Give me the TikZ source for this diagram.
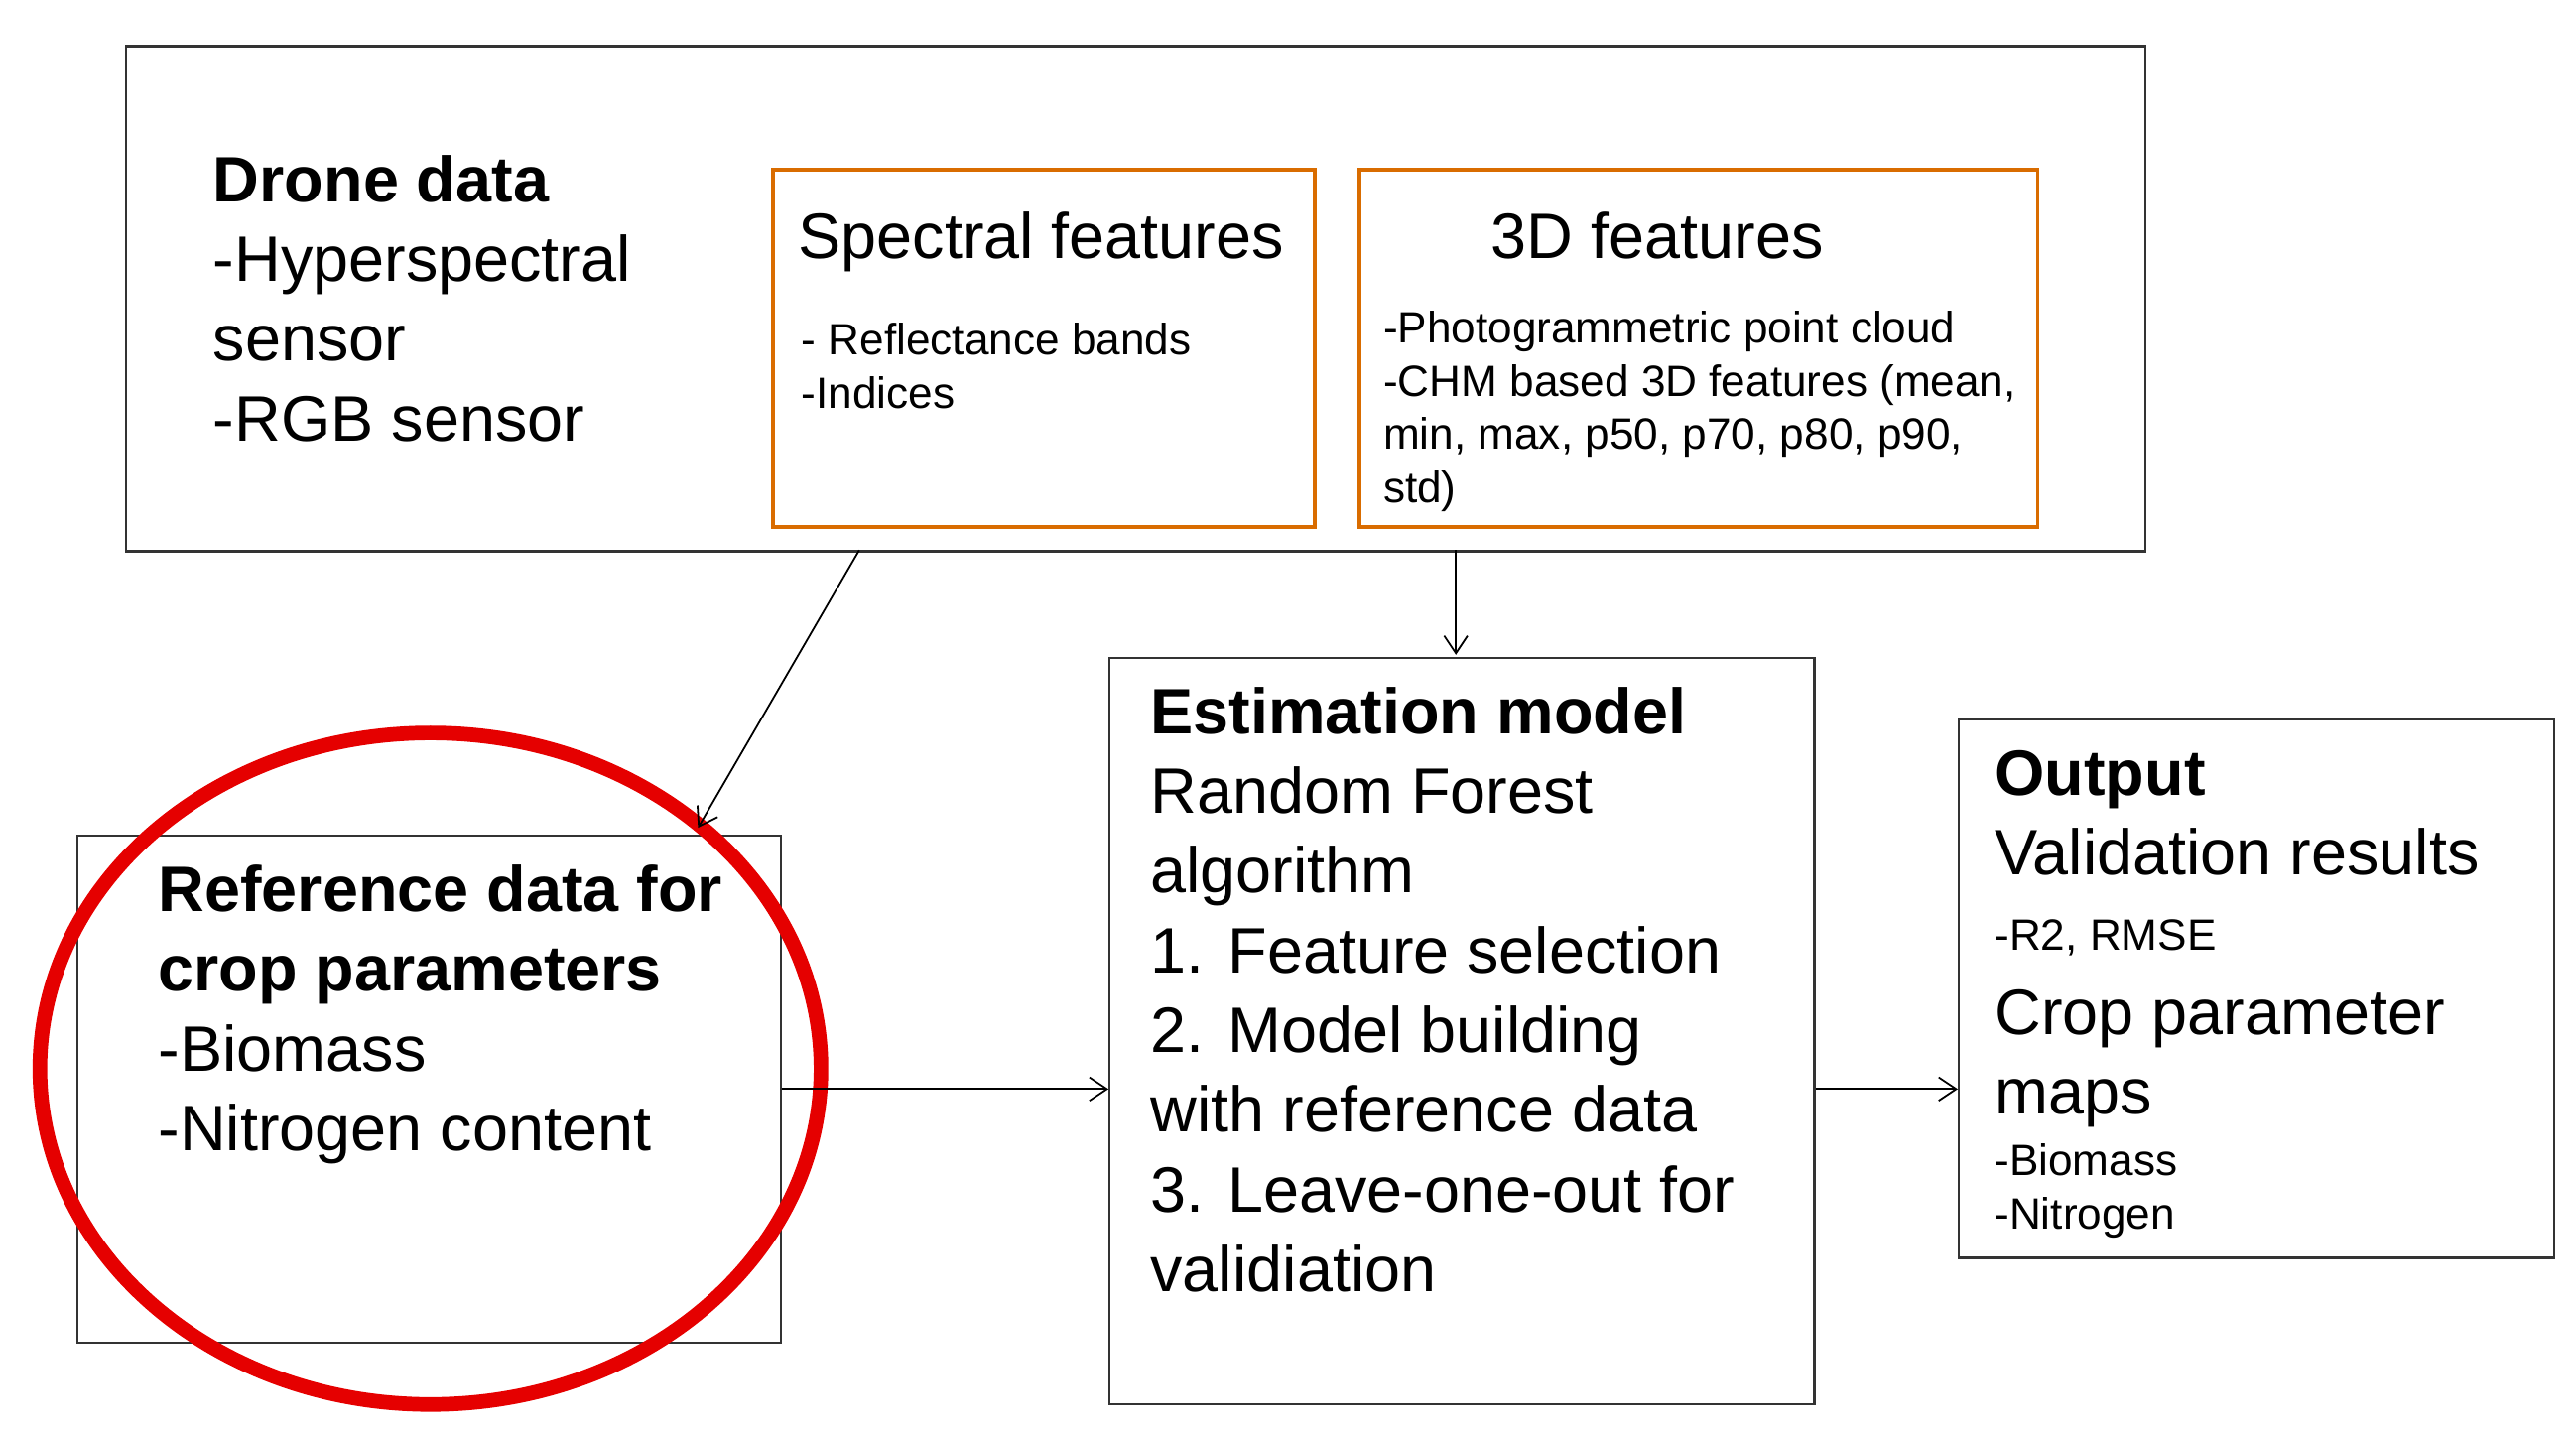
\documentclass[tikz,border=0pt]{standalone}
\usepackage{fontspec}
\setmainfont{Liberation Sans}
\usetikzlibrary{arrows.meta}
\begin{document}
\begin{tikzpicture}[x=0.02cm,y=-0.02cm,
  box/.style={draw=black!80,line width=0.8pt},
  obox/.style={draw=orange!85!black,line width=1.2pt},
  txt/.style={inner sep=0pt,anchor=north west,align=left},
  big/.style={font=\fontsize{22}{27.3}\selectfont},
  sml/.style={font=\fontsize{15}{18.2}\selectfont},
  arr/.style={-{Straight Barb[length=6pt,width=8pt]},line width=0.6pt}]
\useasboundingbox (0,0) rectangle (1550,864);
\node[box,minimum width=1215*0.02cm,minimum height=304*0.02cm,anchor=north west,inner sep=0] (drone) at (75,27) {};
\node[obox,minimum width=326*0.02cm,minimum height=215*0.02cm,anchor=north west,inner sep=0] (spec) at (464,101) {};
\node[obox,minimum width=408*0.02cm,minimum height=215*0.02cm,anchor=north west,inner sep=0] (three) at (817,101) {};
\node[box,minimum width=423*0.02cm,minimum height=305*0.02cm,anchor=north west,inner sep=0] (ref) at (46,502) {};
\node[box,minimum width=424*0.02cm,minimum height=449*0.02cm,anchor=north west,inner sep=0] (est) at (667,395) {};
\node[box,minimum width=358*0.02cm,minimum height=324*0.02cm,anchor=north west,inner sep=0] (out) at (1178,432) {};
\draw[red!90!black,line width=5pt] (259,643) ellipse [x radius=235,y radius=202];

\node[txt,big] (dt) at (128,93) {\textbf{Drone data}\\-Hyperspectral\\sensor\\-RGB sensor};
\node[txt,big] (st) at (480,127) {Spectral features};
\node[txt,sml] (si) at (482,194) {- Reflectance bands\\-Indices};
\node[txt,big] (tt) at (897,127) {3D features};
\node[txt,sml] (ti) at (832,187) {-Photogrammetric point cloud\\-CHM based 3D features (mean,\\min, max, p50, p70, p80, p90,\\std)};
\node[txt,big] (rt) at (95,520) {\textbf{Reference data for}\\\textbf{crop parameters}\\-Biomass\\-Nitrogen content};
\node[txt,big] (et) at (692,413) {\textbf{Estimation model}\\Random Forest\\algorithm\\1. Feature selection\\2. Model building\\with reference data\\3. Leave-one-out for\\validiation};
\node[txt,big] (ot) at (1200,451) {\textbf{Output}\\Validation results};
\node[txt,sml] (o2) at (1200,553) {-R2, RMSE};
\node[txt,big] (o3) at (1200,595) {Crop parameter\\maps};
\node[txt,sml] (o4) at (1200,688) {-Biomass\\-Nitrogen};

\coordinate (a1) at (517,331); \coordinate (a1e) at (420,498);
\coordinate (a2) at (876,331); \coordinate (a2e) at (876,394);
\draw[arr] (a1) -- (a1e);
\draw[arr] (a2) -- (a2e);
\draw[arr] (ref.east) -- (est.west |- ref.east);
\draw[arr] (est.east |- ref.east) -- (out.west |- ref.east);
\end{tikzpicture}
\end{document}
